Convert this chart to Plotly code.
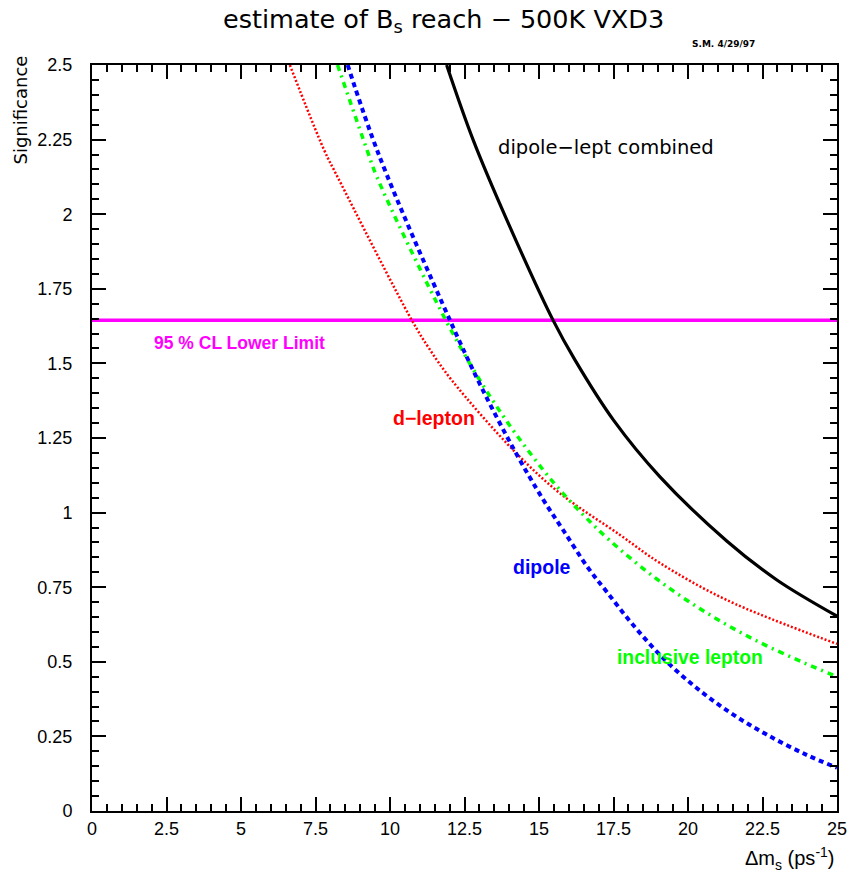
import plotly.graph_objects as go

# Data
combined_x = [11.9, 12.79, 13.92, 15.47, 16.21, 17.5, 19.06, 21.3, 22.97, 25.0]
combined_y = [2.5, 2.249, 1.981, 1.645, 1.511, 1.31, 1.12, 0.905, 0.775, 0.653]

dlepton_x = [6.64, 7.79, 8.26, 10.73, 11.28, 12.07, 14.19, 15.7, 17.72, 19.06, 21.3, 25.0]
dlepton_y = [2.5, 2.215, 2.121, 1.645, 1.555, 1.444, 1.204, 1.065, 0.925, 0.831, 0.707, 0.56]

dipole_x = [8.58, 9.63, 12.01, 13.02, 14.14, 15.15, 15.82, 16.66, 17.27, 18.11, 19.12, 20.23, 21.41, 22.64, 23.98, 25.0]
dipole_y = [2.5, 2.198, 1.645, 1.43, 1.215, 1.042, 0.94, 0.813, 0.735, 0.629, 0.517, 0.417, 0.33, 0.256, 0.188, 0.145]

incl_x = [8.24, 9.23, 9.56, 11.87, 13.08, 13.97, 14.75, 15.56, 16.43, 17.36, 18.89, 20.51, 22.19, 23.93, 25.0]
incl_y = [2.5, 2.215, 2.125, 1.645, 1.433, 1.299, 1.193, 1.092, 0.998, 0.908, 0.782, 0.671, 0.576, 0.495, 0.45]

cl_x = [0, 25]
cl_y = [1.645, 1.645]

x_ticks = [0, 2.5, 5, 7.5, 10, 12.5, 15, 17.5, 20, 22.5, 25]
x_ticklabels = ["0", "2.5", "5", "7.5", "10", "12.5", "15", "17.5", "20", "22.5", "25"]
y_ticks = [0, 0.25, 0.5, 0.75, 1, 1.25, 1.5, 1.75, 2, 2.25, 2.5]
y_ticklabels = ["0", "0.25", "0.5", "0.75", "1", "1.25", "1.5", "1.75", "2", "2.25", "2.5"]

FONT = "Liberation Sans"
WIDE = "DejaVu Sans"

# plot-area geometry in pixels (for converting text positions to paper coords)
L, R, T, B = 92, 837, 65, 811
def px(xp):
    return (xp - L) / (R - L)
def py(yp):
    return (B - yp) / (B - T)

fig = go.Figure()
fig.add_trace(go.Scatter(x=cl_x, y=cl_y, mode="lines",
                         line=dict(color="#FF00FF", width=3.5)))
fig.add_trace(go.Scatter(x=dlepton_x, y=dlepton_y, mode="lines", line_shape="spline",
                         line=dict(color="#FF0000", width=2.5, dash="2px,2px")))
fig.add_trace(go.Scatter(x=incl_x, y=incl_y, mode="lines", line_shape="spline",
                         line=dict(color="#00FF00", width=3.5, dash="6px,5px,2px,5px")))
fig.add_trace(go.Scatter(x=dipole_x, y=dipole_y, mode="lines", line_shape="spline",
                         line=dict(color="#0000FF", width=4, dash="5px,4px")))
fig.add_trace(go.Scatter(x=combined_x, y=combined_y, mode="lines", line_shape="spline",
                         line=dict(color="#000000", width=3.2)))

axis_common = dict(showgrid=False, zeroline=False, showline=True, linecolor="black",
                   linewidth=2, mirror="allticks", ticks="inside", ticklen=14,
                   tickwidth=1.5, tickcolor="black", automargin=False,
                   tickfont=dict(family=FONT, size=18, color="black"))

fig.update_xaxes(range=[0, 25], tickmode="array", tickvals=x_ticks, ticktext=x_ticklabels,
                 minor=dict(dtick=0.5, ticks="inside", ticklen=7, tickwidth=1.5, tickcolor="black"),
                 **axis_common)
fig.update_yaxes(range=[0, 2.5], tickmode="array", tickvals=y_ticks, ticktext=y_ticklabels,
                 minor=dict(dtick=0.05, ticks="inside", ticklen=7, tickwidth=1.5, tickcolor="black"),
                 ticklabelstandoff=14, **axis_common)

ann = [
    dict(text="dipole\u2212lept combined", x=13.56, y=2.222, xref="x", yref="y",
         xanchor="left", yanchor="middle", showarrow=False,
         font=dict(family=WIDE, size=19.5, color="black")),
    dict(text="<b>95 % CL Lower Limit</b>", x=2.01, y=1.568, xref="x", yref="y",
         xanchor="left", yanchor="middle", showarrow=False,
         font=dict(family=FONT, size=17.5, color="#FF00FF")),
    dict(text="<b>d\u2212lepton</b>", x=10.03, y=1.317, xref="x", yref="y",
         xanchor="left", yanchor="middle", showarrow=False,
         font=dict(family=FONT, size=19.5, color="#FF0000")),
    dict(text="<b>dipole</b>", x=14.06, y=0.818, xref="x", yref="y",
         xanchor="left", yanchor="middle", showarrow=False,
         font=dict(family=FONT, size=19.5, color="#0000FF")),
    dict(text="<b>inclusive lepton</b>", x=17.55, y=0.516, xref="x", yref="y",
         xanchor="left", yanchor="middle", showarrow=False,
         font=dict(family=FONT, size=19.3, color="#00FF00")),
    dict(text="estimate of B<sub>s</sub> reach \u2212 500K VXD3", x=px(443), y=py(20),
         xref="paper", yref="paper", xanchor="center", yanchor="middle", showarrow=False,
         font=dict(family=WIDE, size=25.5, color="black")),
    dict(text="<b>S.M. 4/29/97</b>", x=px(690), y=py(44), xref="paper", yref="paper",
         xanchor="left", yanchor="middle", showarrow=False,
         font=dict(family=WIDE, size=9, color="black")),
    dict(text="Significance", x=px(20), y=py(54), xref="paper", yref="paper",
         xanchor="center", yanchor="top", textangle=-90, showarrow=False,
         font=dict(family=WIDE, size=18, color="black")),
    dict(text="\u0394m<sub>s</sub> (ps<sup>-1</sup>)", x=px(837), y=py(858),
         xref="paper", yref="paper", xanchor="right", yanchor="middle", showarrow=False,
         font=dict(family=FONT, size=20, color="black")),
]

fig.update_layout(
    width=853, height=875,
    margin=dict(l=L, r=853 - R, t=T, b=875 - B, pad=0),
    paper_bgcolor="white", plot_bgcolor="white",
    showlegend=False,
    annotations=ann,
)

fig.write_html("out.html")
